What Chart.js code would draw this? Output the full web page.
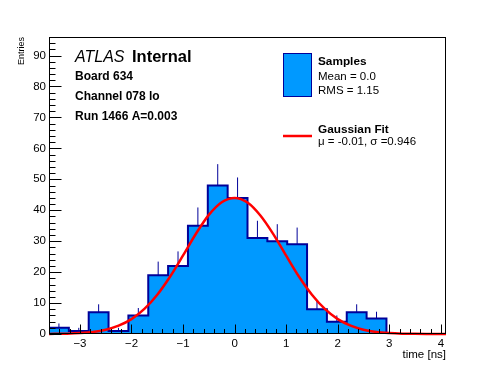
<!DOCTYPE html>
<html><head><meta charset="utf-8">
<script src="https://cdn.jsdelivr.net/npm/chart.js@4"></script>
<style>html,body{margin:0;padding:0;background:#fff}#wrap{width:496px;height:372px;position:relative}</style>
</head><body><div id="wrap"><canvas id="c" width="496" height="372"></canvas></div>
<script>
// ---- data ----
const binEdges = [-3.6,-3.215,-2.83,-2.445,-2.06,-1.675,-1.29,-0.905,-0.52,-0.135,0.25,0.635,1.02,1.405,1.79,2.175,2.56,2.945,3.33,3.715,4.1];
const binCounts = [2,1,7,1,6,19,22,35,48,44,31,30,29,8,4,7,5,0,0,0];
const binErrors = [1.4,1.0,2.6,1.0,2.4,4.4,4.7,5.9,6.9,6.6,5.6,5.5,5.4,2.8,2.0,2.6,2.2,0,0,0];
const fitX = [-3.6,-3.25,-3.0,-2.75,-2.5,-2.25,-2.0,-1.75,-1.5,-1.25,-1.0,-0.75,-0.5,-0.25,0.0,0.25,0.5,0.75,1.0,1.25,1.5,1.75,2.0,2.25,2.5,2.75,3.0,3.25,3.5,3.75,4.1];
const fitY = [0.04,0.12,0.3,0.66,1.4,2.7,4.8,8.1,12.7,18.6,25.4,32.4,38.5,42.6,44.0,42.5,38.3,32.3,25.3,18.5,12.7,8.1,4.8,2.7,1.4,0.66,0.3,0.12,0.05,0.02,0.0];
const xTickValues = [-3,-2,-1,0,1,2,3,4];
const yTickValues = [0,10,20,30,40,50,60,70,80,90];
const xRange = [-3.6, 4.1];
const yRange = [0, 96];
const legendLines = ["Samples","Mean = 0.0","RMS = 1.15","Gaussian Fit","\u03bc = -0.01, \u03c3 =0.946"];
const labelLines = ["Board 634","Channel 078 lo","Run 1466 A=0.003"];

const FONT = "'Liberation Sans', Arial, Helvetica, sans-serif";
const fillBlue = '#0099ff', lineBlue = '#000099', red = '#ff0000';

// histogram as stepped line (value of bin i holds from edge i to edge i+1)
const histData = binEdges.map((e,i)=>({x:e, y: i===0 ? binCounts[0] : binCounts[i-1]}));
// error bars (upper part), separated by gaps
const errData = [];
binCounts.forEach((n,i)=>{
  if (binErrors[i] > 0) {
    const c = (binEdges[i]+binEdges[i+1])/2;
    errData.push({x:c,y:n},{x:c,y:n+binErrors[i]},{x:c,y:null});
  }
});
const fitData = fitX.map((x,i)=>({x:x,y:fitY[i]}));

const decor = {
  id:'decor',
  afterDatasetsDraw(chart){
    const ctx = chart.ctx, xs = chart.scales.x, ys = chart.scales.y, a = chart.chartArea;
    ctx.save();
    ctx.strokeStyle = '#000'; ctx.lineWidth = 1;
    // frame
    ctx.strokeRect(Math.round(a.left)+0.5, Math.round(a.top)+0.5, Math.round(a.right-a.left)-1, Math.round(a.bottom-a.top)-1);
    const L = Math.round(a.left)+0.5, B = Math.round(a.bottom)-0.5;
    ctx.beginPath();
    // y ticks (inside)
    for (let v = yRange[0]; v <= yRange[1]+1e-9; v += 2) {
      const y = Math.round(ys.getPixelForValue(v))+0.5;
      const len = (Math.abs(v % 10) < 1e-6) ? 12 : 6;
      ctx.moveTo(L, y); ctx.lineTo(L+len, y);
    }
    // x ticks (inside)
    for (let k = Math.ceil(xRange[0]*5); k <= Math.floor(xRange[1]*5); k++) {
      const v = k/5;
      const x = Math.round(xs.getPixelForValue(v))+0.5;
      const len = (k % 5 === 0) ? 9 : 4.5;
      ctx.moveTo(x, B); ctx.lineTo(x, B-len);
    }
    ctx.stroke();

    // axis titles
    ctx.fillStyle = '#000';
    ctx.font = `11.5px ${FONT}`;
    ctx.textAlign = 'right'; ctx.textBaseline = 'middle';
    ctx.fillText('time [ns]', a.right, 355);
    ctx.save();
    ctx.translate(21.5, a.top);
    ctx.rotate(-Math.PI/2);
    ctx.font = `9px ${FONT}`;
    ctx.textAlign = 'right';
    ctx.fillText('Entries', 0, 0);
    ctx.restore();

    // ATLAS label
    ctx.textAlign = 'left'; ctx.textBaseline = 'middle';
    ctx.font = `italic 16px ${FONT}`;
    ctx.fillText('ATLAS', 75, 57.5);
    ctx.font = `bold 16.5px ${FONT}`;
    ctx.fillText('Internal', 132, 57.5);
    ctx.font = `bold 12px ${FONT}`;
    ctx.fillText(labelLines[0], 75, 76.5);
    ctx.fillText(labelLines[1], 75, 96.5);
    ctx.fillText(labelLines[2], 75, 116.5);

    // legend
    ctx.fillStyle = fillBlue;
    ctx.fillRect(283.5, 53.5, 28, 43);
    ctx.strokeStyle = lineBlue; ctx.lineWidth = 1;
    ctx.strokeRect(283.5, 53.5, 28, 43);
    ctx.fillStyle = '#000';
    ctx.font = `bold 11.8px ${FONT}`;
    ctx.fillText(legendLines[0], 318, 61.5);
    ctx.font = `11.5px ${FONT}`;
    ctx.fillText(legendLines[1], 318, 76.5);
    ctx.fillText(legendLines[2], 318, 90.5);
    ctx.font = `bold 11.8px ${FONT}`;
    ctx.fillText(legendLines[3], 318, 129.5);
    ctx.font = `11.5px ${FONT}`;
    ctx.fillText(legendLines[4], 318, 142);
    ctx.strokeStyle = red; ctx.lineWidth = 2.5;
    ctx.beginPath(); ctx.moveTo(283, 136); ctx.lineTo(312, 136); ctx.stroke();
    ctx.restore();
  }
};

const fmt = v => (v < 0 ? '\u2212' + Math.abs(v) : String(v));

new Chart(document.getElementById('c'), {
  type: 'line',
  data: { datasets: [
    { data: fitData, borderColor: red, borderWidth: 2.5, pointRadius: 0, cubicInterpolationMode: 'monotone', fill: false, order: 0, clip: 3 },
    { data: errData, borderColor: lineBlue, borderWidth: 1, pointRadius: 0, spanGaps: false, fill: false, order: 1 },
    { data: histData, stepped: 'after', borderColor: lineBlue, backgroundColor: fillBlue, borderWidth: 2, pointRadius: 0, fill: 'origin', order: 2 }
  ]},
  options: {
    responsive: false, animation: false, devicePixelRatio: 1,
    layout: { padding: { left: 0, top: 37, right: 50, bottom: 0 } },
    plugins: { legend: { display: false }, tooltip: { enabled: false } },
    scales: {
      x: {
        type: 'linear', min: xRange[0], max: xRange[1],
        grid: { display: false, drawTicks: false }, border: { display: false },
        afterBuildTicks: s => { s.ticks = xTickValues.map(v=>({value:v})); },
        afterFit: s => { s.height = 38; },
        ticks: { padding: 3, color: '#000', font: { family: FONT, size: 11.5 }, maxRotation: 0, autoSkip: false, callback: v => fmt(v) }
      },
      y: {
        type: 'linear', min: yRange[0], max: yRange[1],
        grid: { display: false, drawTicks: false }, border: { display: false },
        afterBuildTicks: s => { s.ticks = yTickValues.map(v=>({value:v})); },
        afterFit: s => { s.width = 49; },
        ticks: { padding: 3, color: '#000', font: { family: FONT, size: 11.5 }, autoSkip: false, callback: v => String(v) }
      }
    }
  },
  plugins: [decor]
});
</script></body></html>
